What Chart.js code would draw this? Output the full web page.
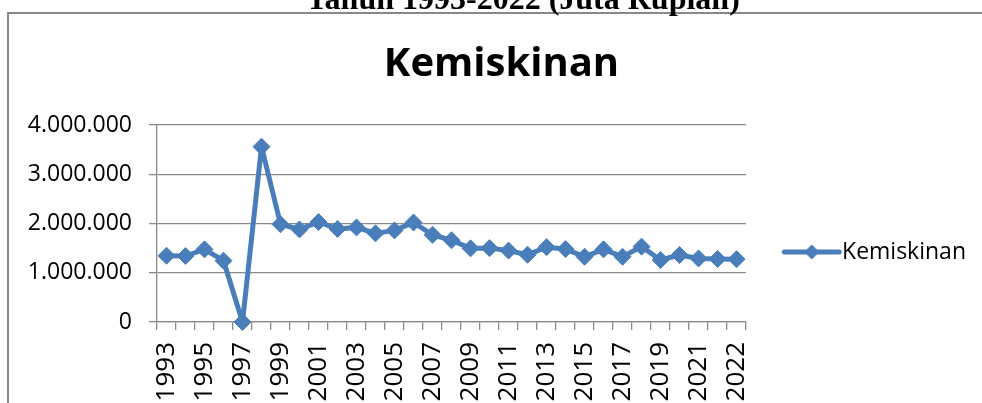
<!DOCTYPE html>
<html>
<head>
<meta charset="utf-8">
<script src="https://cdn.jsdelivr.net/npm/chart.js@4.4.0/dist/chart.umd.min.js"></script>
<style>
  body { margin: 0; background: #fff; width: 982px; height: 403px; overflow: hidden; position: relative; }
  #caption { position: absolute; left: 0; top: -18px; width: 1046px; text-align: center; font: bold 32px "Liberation Serif", serif; line-height: 32px; color: #000; white-space: nowrap; z-index: 2; }
  #frame { position: absolute; left: 7px; top: 12px; width: 1100px; height: 600px; border: 2px solid #888; background: #fff; }
  #wrap { position: absolute; left: 27px; top: 14px; width: 949px; height: 476px; }
</style>
</head>
<body>
<div id="caption">Tahun 1993-2022 (Juta Rupiah)</div>
<div id="frame"></div>
<div id="wrap"><canvas id="chart" width="949" height="476"></canvas></div>
<script>
// data
const years = ['1993','1994','1995','1996','1997','1998','1999','2000','2001','2002',
  '2003','2004','2005','2006','2007','2008','2009','2010','2011','2012',
  '2013','2014','2015','2016','2017','2018','2019','2020','2021','2022','2022'];
const kemiskinan = [1345000, 1340000, 1475000, 1245000, 0, 3560000, 1985000, 1880000, 2030000, 1890000,
  1920000, 1800000, 1860000, 2020000, 1770000, 1660000, 1495000, 1500000, 1450000, 1365000,
  1520000, 1480000, 1325000, 1475000, 1325000, 1530000, 1260000, 1360000, 1290000, 1280000, 1275000];
const yMax = 4000000;
const yStep = 1000000;

const blue = '#4a7ebb';
const grey = '#8a8a8a';
const font = 'Open Sans';

// line + diamond symbol for the legend, like the Excel one
function legendSymbol() {
  const c = document.createElement('canvas');
  c.width = 100; c.height = 20;
  const g = c.getContext('2d');
  g.strokeStyle = blue;
  g.lineWidth = 5;
  g.lineCap = 'round';
  g.beginPath(); g.moveTo(41, 10); g.lineTo(96, 10); g.stroke();
  g.fillStyle = blue;
  g.beginPath();
  g.moveTo(68.5, 2.5); g.lineTo(76, 10); g.lineTo(68.5, 17.5); g.lineTo(61, 10);
  g.closePath(); g.fill();
  return c;
}

function dots(v) {
  return String(v).replace(/\B(?=(\d{3})+(?!\d))/g, '.');
}

Chart.defaults.color = '#000';
Chart.defaults.font.family = font;

new Chart(document.getElementById('chart'), {
  type: 'line',
  data: {
    labels: years,
    datasets: [{
      label: 'Kemiskinan',
      data: kemiskinan,
      borderColor: blue,
      backgroundColor: blue,
      borderWidth: 5,
      borderJoinStyle: 'round',
      borderCapStyle: 'round',
      pointStyle: 'rectRot',
      pointRadius: 8.5,
      pointBorderWidth: 1,
      pointBackgroundColor: blue,
      pointBorderColor: blue,
      tension: 0,
      clip: false
    }]
  },
  options: {
    responsive: false,
    animation: false,
    devicePixelRatio: 1,
    layout: { padding: 0 },
    plugins: {
      title: {
        display: true,
        text: 'Kemiskinan',
        font: { family: font, size: 40, weight: 'bold' },
        padding: { top: 27, bottom: 36 }
      },
      legend: {
        position: 'right',
        labels: {
          usePointStyle: true,
          pointStyle: legendSymbol(),
          pointStyleWidth: 74.5,
          padding: 10,
          font: { family: font, size: 23 }
        }
      },
      tooltip: { enabled: false }
    },
    scales: {
      x: {
        offset: true,
        grid: { offset: true, drawOnChartArea: false, drawTicks: true, tickLength: 8, color: grey, lineWidth: 1.3 },
        border: { display: true, color: grey, width: 1.3 },
        ticks: {
          autoSkip: false,
          minRotation: 90,
          maxRotation: 90,
          padding: 12,
          font: { family: font, size: 26 },
          callback: (v, i) => (i % 2 === 0 ? years[i] : '')
        },
        afterFit: (scale) => { scale.height = 168; }
      },
      y: {
        min: 0,
        max: yMax,
        grid: { color: grey, lineWidth: 1.3, tickLength: 8 },
        border: { display: true, color: grey, width: 1.3 },
        ticks: {
          stepSize: yStep,
          padding: 17,
          font: { family: font, size: 23 },
          callback: (v) => dots(v)
        },
        afterFit: (scale) => { scale.width = 130; }
      }
    }
  }
});
</script>
</body>
</html>
